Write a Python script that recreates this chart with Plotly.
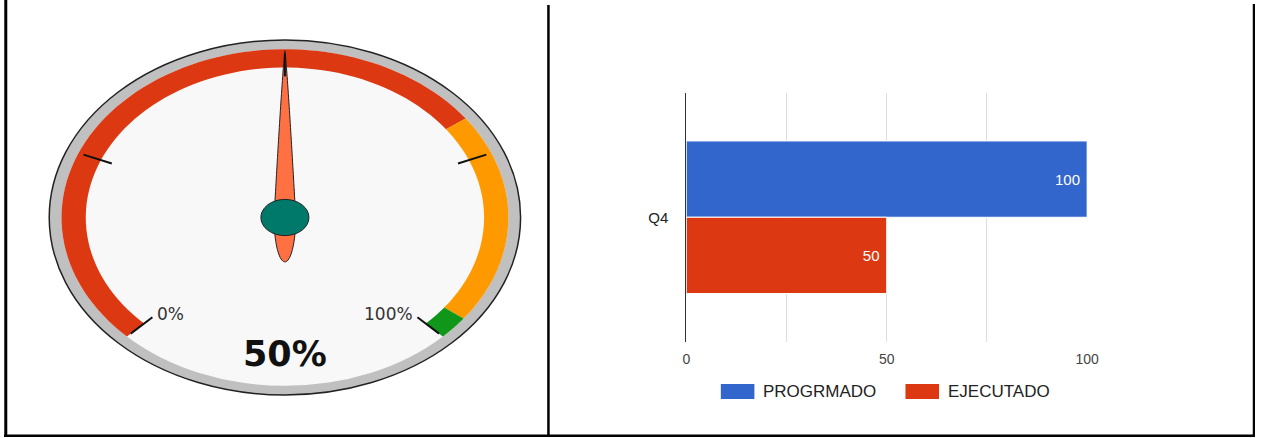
import numpy as np
import plotly.graph_objects as go

# ---------------- data ----------------
gauge_value = 50
gauge_min = 0
gauge_max = 100
band_starts = [0, 70, 97]
band_ends = [70, 97, 100]
band_colors = ["#dc3912", "#ff9900", "#109618"]
gauge_ticks = [0, 25, 50, 75, 100]
gauge_labelled = [0, 100]

categories = ["Q4"]
series_names = ["PROGRMADO", "EJECUTADO"]
programado = [100]
ejecutado = [50]
series_colors = ["#3366cc", "#dc3912"]
x_tickvals = [0, 25, 50, 75, 100]
x_ticktext = ["0", "", "50", "", "100"]

# ---------------- geometry / style ----------------
W, H = 1267, 438
CX, CY, RX, RY = 284.5, 217.5, 238.7, 177.5
START_DEG, SWEEP_DEG = 225.0, 270.0
BAND_OUT, BAND_IN = 0.948, 0.845
FACE_R = 0.948
TICK_IN, TICK_OUT = 0.795, 0.925
LABEL_R = 0.77


def ang(v):
    return np.radians(START_DEG - SWEEP_DEG * (v - gauge_min) / (gauge_max - gauge_min))


def to_px(u, w):
    return CX + RX * u, CY - RY * w


def path_of(points):
    xy = [to_px(u, w) for u, w in points]
    return "M " + " L ".join(f"{x:.2f},{y:.2f}" for x, y in xy) + " Z"


shapes = []
G = dict(xref="x2", yref="y2", layer="below")

# outer bezel and face
shapes.append(dict(type="circle", x0=CX - RX, x1=CX + RX, y0=CY - RY, y1=CY + RY,
                   fillcolor="#c0c0c0", line=dict(color="#222", width=1.5), **G))
shapes.append(dict(type="circle", x0=CX - FACE_R * RX, x1=CX + FACE_R * RX,
                   y0=CY - FACE_R * RY, y1=CY + FACE_R * RY,
                   fillcolor="#f8f8f8", line=dict(width=0), **G))

# colour bands
for a, b, c in zip(band_starts, band_ends, band_colors):
    th = np.linspace(ang(a), ang(b), 80)
    pts = [(BAND_OUT * np.cos(t), BAND_OUT * np.sin(t)) for t in th]
    pts += [(BAND_IN * np.cos(t), BAND_IN * np.sin(t)) for t in th[::-1]]
    shapes.append(dict(type="path", path=path_of(pts), fillcolor=c,
                       line=dict(width=0), **G))

# needle
t = ang(gauge_value)
d = np.array([np.cos(t), np.sin(t)])
p = np.array([-np.sin(t), np.cos(t)])
R_TIP, HW, TAIL = 0.94, 0.046, 0.25
s = np.linspace(0, 1, 40)
phi = np.linspace(0, np.pi, 40)
left = [d * R_TIP * (1 - si) + p * HW * si ** 0.85 for si in s]
tail = [p * HW * np.cos(f) - d * TAIL * np.sin(f) for f in phi]
right = [d * R_TIP * (1 - si) - p * HW * si ** 0.85 for si in s[::-1]]
shapes.append(dict(type="path", path=path_of([tuple(q) for q in left + tail + right]),
                   fillcolor="#ff7043", line=dict(color="#222", width=1), **G))

# hub
HUB = 0.102
shapes.append(dict(type="circle", x0=CX - HUB * RX, x1=CX + HUB * RX,
                   y0=CY - HUB * RY, y1=CY + HUB * RY,
                   fillcolor="#00796b", line=dict(color="#222", width=1), **G))

# ticks
for v in gauge_ticks:
    tv = ang(v)
    x0, y0 = to_px(TICK_IN * np.cos(tv), TICK_IN * np.sin(tv))
    x1, y1 = to_px(TICK_OUT * np.cos(tv), TICK_OUT * np.sin(tv))
    shapes.append(dict(type="line", x0=x0, y0=y0, x1=x1, y1=y1,
                       line=dict(color="#111", width=2), **G))

annotations = []
for v in gauge_labelled:
    tv = ang(v)
    lx, ly = to_px(LABEL_R * np.cos(tv), LABEL_R * np.sin(tv))
    left_side = np.cos(tv) < 0
    annotations.append(dict(xref="x2", yref="y2", x=lx - 2 if left_side else lx + 2, y=ly,
                            text=f"{v}%", showarrow=False,
                            xanchor="left" if left_side else "right", yanchor="middle",
                            font=dict(family="DejaVu Sans", size=17, color="#333")))

# frame lines
frame = [
    (1.8, 0, 1.8, 437, 3),
    (551.4, 5, 551.4, 437, 2.5),
    (1266, 4, 1266, 437, 2.5),
    (0, 435.7, 1267, 435.7, 2.5),
]
for x0, y0, x1, y1, wd in frame:
    shapes.append(dict(type="line", x0=x0, y0=y0, x1=x1, y1=y1,
                       line=dict(color="#000", width=wd), **G))

# custom legend for bar chart
legend_x = [726, 913]
LEG_Y0, LEG_Y1 = 384, 399
SW_W = 34
for lx, name, col in zip(legend_x, series_names, series_colors):
    shapes.append(dict(type="rect", x0=lx, x1=lx + SW_W, y0=LEG_Y0, y1=LEG_Y1,
                       fillcolor=col, line=dict(width=0), **G))
    annotations.append(dict(xref="x2", yref="y2", x=lx + SW_W + 7, y=(LEG_Y0 + LEG_Y1) / 2,
                            text=name, showarrow=False, xanchor="left", yanchor="middle",
                            font=dict(family="Arial, Liberation Sans", size=17, color="#222")))

fig = go.Figure()

for name, vals, col in zip(series_names, [programado, ejecutado], series_colors):
    fig.add_trace(go.Bar(
        y=categories, x=vals, name=name, orientation="h",
        marker=dict(color=col, line=dict(color="white", width=1)),
        texttemplate="%{x}\u00a0", textposition="inside", insidetextanchor="end",
        textfont=dict(family="Arial, Liberation Sans", size=15, color="white"),
        showlegend=False, hoverinfo="skip",
    ))

fig.add_trace(go.Scatter(
    x=[CX], y=[357.5], xaxis="x2", yaxis="y2", mode="text",
    text=[f"{gauge_value}%"], textposition="middle center",
    textfont=dict(family="DejaVu Sans", size=35, color="#111", weight="bold"),
    showlegend=False, hoverinfo="skip",
))

fig.update_layout(
    width=W, height=H,
    margin=dict(l=0, r=0, t=0, b=0),
    paper_bgcolor="white", plot_bgcolor="rgba(0,0,0,0)",
    barmode="group", bargap=0.386, bargroupgap=0,
    showlegend=False,
    xaxis=dict(domain=[691 / W, 1097 / W], range=[0, 100], anchor="y",
               tickvals=x_tickvals, ticktext=x_ticktext,
               showgrid=True, gridcolor="#dddddd", gridwidth=1,
               zeroline=False, showline=False,
               ticks="outside", ticklen=5, tickcolor="rgba(0,0,0,0)",
               tickfont=dict(family="Arial, Liberation Sans", size=14, color="#444"),
               fixedrange=True),
    yaxis=dict(domain=[(H - 341.5) / H, (H - 93) / H], anchor="x",
               autorange="reversed", type="category",
               showgrid=False, zeroline=False,
               showline=True, linecolor="#333", linewidth=1,
               ticks="outside", ticklen=14, tickcolor="rgba(0,0,0,0)",
               tickfont=dict(family="Arial, Liberation Sans", size=15, color="#222"),
               fixedrange=True),
    xaxis2=dict(domain=[0, 1], range=[0, W], anchor="y2", visible=False, fixedrange=True),
    yaxis2=dict(domain=[0, 1], range=[H, 0], anchor="x2", visible=False, fixedrange=True),
    shapes=shapes,
    annotations=annotations,
)

fig.write_html(
    "out.html", config={"displayModeBar": False},
    post_script="document.body.style.margin='0px';",
)
